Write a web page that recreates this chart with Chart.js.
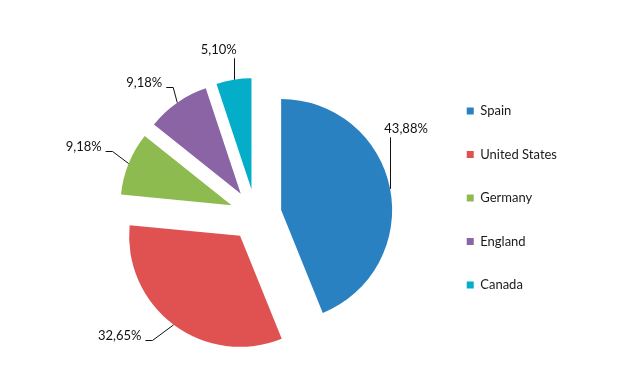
<!DOCTYPE html>
<html>
<head>
<meta charset="utf-8">
<script src="https://cdn.jsdelivr.net/npm/chart.js@4.4.1/dist/chart.umd.min.js"></script>
<style>
  html, body { margin: 0; padding: 0; background: #fff; }
  #wrap { width: 644px; height: 388px; }
</style>
</head>
<body>
<div id="wrap"><canvas id="pieChart" width="644" height="388"></canvas></div>
<script>
const countries = ['Spain', 'United States', 'Germany', 'England', 'Canada'];
const counts = [43, 32, 9, 9, 5];
const colors = ['#2a81c2', '#e05252', '#8dbb4f', '#8a64a5', '#04adc8'];

// how far each slice is pulled out of the pie (px)
const explode = [26, 26, 26, 26, 26];
// % label position relative to the middle of each slice's outer edge
const labelShift = [[16, -60], [-54, 11], [-45, -17], [-33, -20], [-15, -30]];

const total = counts.reduce((a, b) => a + b, 0);
const pct = v => (v / total * 100).toFixed(2).replace('.', ',') + '%';

// draw the arcs ourselves so every slice moves out without growing
const explodePlugin = {
  id: 'explode',
  beforeDatasetDraw(chart, args) {
    const c = chart.ctx;
    args.meta.data.forEach((arc, i) => {
      const mid = (arc.startAngle + arc.endAngle) / 2;
      c.save();
      c.translate(Math.cos(mid) * explode[i], Math.sin(mid) * explode[i]);
      arc.draw(c);
      c.restore();
    });
    return false;
  }
};

const pctLabels = {
  id: 'pctLabels',
  afterDatasetsDraw(chart) {
    const c = chart.ctx;
    const meta = chart.getDatasetMeta(0);
    c.save();
    c.font = '13px Lato';
    c.fillStyle = '#111';
    c.strokeStyle = '#111';
    c.lineWidth = 1;
    c.textBaseline = 'middle';
    c.textAlign = 'center';
    meta.data.forEach((arc, i) => {
      const mid = (arc.startAngle + arc.endAngle) / 2;
      const cx = arc.x + Math.cos(mid) * explode[i];
      const cy = arc.y + Math.sin(mid) * explode[i];
      const ax = cx + Math.cos(mid) * arc.outerRadius;
      const ay = cy + Math.sin(mid) * arc.outerRadius;
      const tx = ax + labelShift[i][0];
      const ty = ay + labelShift[i][1];
      const text = pct(counts[i]);
      const w = c.measureText(text).width;
      c.fillText(text, tx, ty);
      c.beginPath();
      if (Math.abs(labelShift[i][0]) < w / 2) {
        const x = Math.round(ax) + 0.5;
        c.moveTo(x, ay);
        c.lineTo(x, ty + 8.5);
      } else {
        const ly = Math.round(ty + 4.5) + 0.5;
        c.moveTo(ax, ay);
        c.lineTo(tx + w / 2 + 11, ly);
        c.lineTo(tx + w / 2 + 4, ly);
      }
      c.stroke();
    });
    c.restore();
  }
};

const ctx = document.getElementById('pieChart').getContext('2d');
const pieChart = new Chart(ctx, {
  type: 'pie',
  data: {
    labels: countries,
    datasets: [{
      data: counts,
      backgroundColor: colors,
      borderColor: colors,
      borderWidth: 0,
      radius: 111,
      hoverOffset: 0
    }]
  },
  options: {
    responsive: false,
    animation: false,
    events: [],
    layout: { padding: { left: 75, right: 77, top: 74, bottom: 32 } },
    plugins: {
      legend: {
        position: 'right',
        align: 'start',
        labels: {
          boxWidth: 7,
          boxHeight: 7,
          padding: 30.5,
          color: '#1a1a1a',
          font: { family: 'Lato', size: 13 }
        }
      },
      tooltip: { enabled: false }
    }
  },
  plugins: [explodePlugin, pctLabels]
});
</script>
</body>
</html>
